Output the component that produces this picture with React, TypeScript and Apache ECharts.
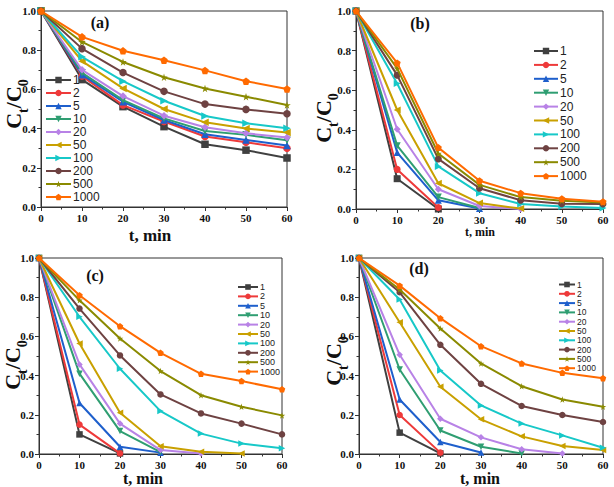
import React, { useEffect, useRef } from "react";
import * as echarts from "echarts";

// time points (min)
const times = [0, 10, 20, 30, 40, 50, 60];
const seriesNames = ["1", "2", "5", "10", "20", "50", "100", "200", "500", "1000"];
const xTicks = [0, 10, 20, 30, 40, 50, 60];
const yTicks = [0.0, 0.2, 0.4, 0.6, 0.8, 1.0];
const panelLabels = ["(a)", "(b)", "(c)", "(d)"];

// Panel (a)
const a1 = [1, 0.65, 0.512, 0.41, 0.32, 0.29, 0.25];
const a2 = [1, 0.668, 0.52, 0.436, 0.36, 0.33, 0.3];
const a5 = [1, 0.675, 0.537, 0.444, 0.371, 0.342, 0.314];
const a10 = [1, 0.685, 0.545, 0.452, 0.388, 0.368, 0.34];
const a20 = [1, 0.7, 0.566, 0.466, 0.407, 0.376, 0.354];
const a50 = [1, 0.744, 0.605, 0.5, 0.432, 0.4, 0.38];
const a100 = [1, 0.766, 0.642, 0.542, 0.464, 0.427, 0.402];
const a200 = [1, 0.808, 0.686, 0.59, 0.525, 0.498, 0.476];
const a500 = [1, 0.842, 0.74, 0.662, 0.605, 0.563, 0.52];
const a1000 = [1, 0.868, 0.797, 0.749, 0.697, 0.642, 0.602];

// Panel (b)
const b1 = [1, 0.153, 0.0];
const b2 = [1, 0.2, 0.008];
const b5 = [1, 0.285, 0.044, 0.003];
const b10 = [1, 0.32, 0.06, 0.005];
const b20 = [1, 0.403, 0.1, 0.015, 0.0];
const b50 = [1, 0.5, 0.13, 0.03, 0.002];
const b100 = [1, 0.634, 0.215, 0.08, 0.025, 0.013, 0.005];
const b200 = [1, 0.676, 0.253, 0.105, 0.044, 0.027, 0.025];
const b500 = [1, 0.71, 0.28, 0.122, 0.06, 0.042, 0.033];
const b1000 = [1, 0.738, 0.31, 0.143, 0.08, 0.052, 0.037];

// Panel (c)
const c1 = [1, 0.1, 0.003];
const c2 = [1, 0.15, 0.003];
const c5 = [1, 0.26, 0.037, 0.007];
const c10 = [1, 0.41, 0.117, 0.01];
const c20 = [1, 0.457, 0.155, 0.02, 0.003];
const c50 = [1, 0.564, 0.21, 0.04, 0.012, 0.002];
const c100 = [1, 0.7, 0.435, 0.219, 0.104, 0.053, 0.029];
const c200 = [1, 0.742, 0.503, 0.304, 0.207, 0.155, 0.1];
const c500 = [1, 0.784, 0.589, 0.423, 0.3, 0.241, 0.197];
const c1000 = [1, 0.81, 0.652, 0.516, 0.409, 0.372, 0.33];

// Panel (d)
const d1 = [1, 0.109, 0.003];
const d2 = [1, 0.199, 0.007];
const d5 = [1, 0.278, 0.061, 0.008];
const d10 = [1, 0.431, 0.12, 0.037, 0.003];
const d20 = [1, 0.506, 0.18, 0.085, 0.024, 0.003];
const d50 = [1, 0.672, 0.343, 0.177, 0.09, 0.041, 0.02];
const d100 = [1, 0.788, 0.426, 0.248, 0.155, 0.095, 0.032];
const d200 = [1, 0.825, 0.557, 0.358, 0.245, 0.199, 0.163];
const d500 = [1, 0.839, 0.64, 0.462, 0.346, 0.278, 0.241];
const d1000 = [1, 0.859, 0.693, 0.55, 0.462, 0.414, 0.387];

const panelData = [
  [a1, a2, a5, a10, a20, a50, a100, a200, a500, a1000],
  [b1, b2, b5, b10, b20, b50, b100, b200, b500, b1000],
  [c1, c2, c5, c10, c20, c50, c100, c200, c500, c1000],
  [d1, d2, d5, d10, d20, d50, d100, d200, d500, d1000],
];

const colors = [
  "#404040", "#EE3A3A", "#1E5FCC", "#2F9E72", "#B882E6",
  "#C9A000", "#17C8C8", "#6E4242", "#8A8A00", "#FF6A00",
];
const STAR = "path://M50,0 L61,35 L98,35 L68,57 L79,91 L50,70 L21,91 L32,57 L2,35 L39,35 Z";
const PENTA = "path://M50,0 L100,38 L81,100 L19,100 L0,38 Z";
const symbols = ["rect", "circle", "triangle", "triangle", "diamond", "triangle", "triangle", "circle", STAR, PENTA];
const symbolRotates = [0, 0, 0, 180, 0, 90, -90, 0, 0, 0];

const grids = [
  { left: 41, top: 11, width: 246, height: 196 },
  { left: 356, top: 11, width: 247, height: 198 },
  { left: 39, top: 258, width: 243, height: 196 },
  { left: 359, top: 258, width: 244, height: 196 },
];
const legendPos = [
  { left: 45, top: 74, itemWidth: 25, itemHeight: 8, itemGap: 1, fontSize: 12 },
  { left: 533, top: 45, itemWidth: 24, itemHeight: 8, itemGap: 1.9, fontSize: 12 },
  { left: 237, top: 282.5, itemWidth: 20, itemHeight: 7, itemGap: 0.4, fontSize: 9 },
  { left: 558, top: 280, itemWidth: 16, itemHeight: 7, itemGap: 0.3, fontSize: 8.5 },
];
const symSizes = [7.5, 7, 6.5, 6.5];
const labelPos = [
  [100, 22], [420, 23], [95, 275], [419, 268],
];
const xTitlePos = [
  { x: 150, y: 235, size: 17 },
  { x: 480, y: 232, size: 12 },
  { x: 143, y: 478, size: 16 },
  { x: 480, y: 478, size: 16 },
];
const yTitlePos = [
  [12, 104], [322, 118], [11, 365], [332, 361],
];

export default function App() {
  const ref = useRef<HTMLDivElement>(null);
  useEffect(() => {
    if (!ref.current) return;
    const chart = echarts.init(ref.current, null, { renderer: "svg" });
    const serif = "Liberation Serif";
    const xAxes: any[] = [];
    const yAxes: any[] = [];
    const series: any[] = [];
    const legends: any[] = [];
    const graphics: any[] = [];
    grids.forEach((g, p) => {
      xAxes.push({
        type: "value", gridIndex: p, min: xTicks[0], max: xTicks[xTicks.length - 1], interval: 10,
        axisLine: { show: true, lineStyle: { color: "#333", width: 1 } },
        axisTick: { show: true, length: 4, lineStyle: { color: "#333" } },
        minorTick: { show: true, splitNumber: 2, length: 2.5, lineStyle: { color: "#333" } },
        splitLine: { show: false },
        axisLabel: { fontFamily: serif, fontWeight: "bold", fontSize: 11, color: "#111", margin: 5 },
      });
      yAxes.push({
        type: "value", gridIndex: p, min: yTicks[0], max: yTicks[yTicks.length - 1], interval: 0.2,
        axisLine: { show: true, lineStyle: { color: "#333", width: 1 } },
        axisTick: { show: true, length: 4, lineStyle: { color: "#333" } },
        minorTick: { show: true, splitNumber: 2, length: 2.5, lineStyle: { color: "#333" } },
        splitLine: { show: false },
        axisLabel: {
          fontFamily: serif, fontWeight: "bold", fontSize: 11, color: "#111", margin: 5,
          formatter: (v: number) => v.toFixed(1),
        },
      });
      panelData[p].forEach((arr, i) => {
        series.push({
          type: "line", name: seriesNames[i], xAxisIndex: p, yAxisIndex: p,
          data: arr.map((v, k) => [times[k], v]),
          symbol: symbols[i], symbolRotate: symbolRotates[i], symbolSize: symSizes[p],
          lineStyle: { color: colors[i], width: 2 },
          itemStyle: { color: colors[i] },
          z: 2 + i,
        });
      });
      const lp = legendPos[p];
      legends.push({
        orient: "vertical", left: lp.left, top: lp.top, itemWidth: lp.itemWidth, itemHeight: lp.itemHeight,
        itemGap: lp.itemGap, padding: 0, data: seriesNames,
        textStyle: { fontFamily: "Liberation Sans", fontSize: lp.fontSize, color: "#222", padding: [0, 0, 0, -3] },
      });
      graphics.push({
        type: "text", x: labelPos[p][0], y: labelPos[p][1],
        style: { text: panelLabels[p], fontFamily: serif, fontWeight: "bold", fontSize: 16, fill: "#111", align: "center", verticalAlign: "middle" },
      });
      const xt = xTitlePos[p];
      graphics.push({
        type: "text", x: xt.x, y: xt.y,
        style: { text: "t, min", fontFamily: serif, fontWeight: "bold", fontSize: xt.size, fill: "#111", align: "center", verticalAlign: "middle" },
      });
      graphics.push({
        type: "text", x: yTitlePos[p][0], y: yTitlePos[p][1], rotation: Math.PI / 2,
        style: {
          text: "{c|C}{s|t}{c|/C}{s|0}", align: "center", verticalAlign: "middle", fill: "#111",
          rich: {
            c: { fontFamily: serif, fontWeight: "bold", fontSize: 22, fill: "#111", verticalAlign: "bottom", lineHeight: 24 },
            s: { fontFamily: serif, fontWeight: "bold", fontSize: 14, fill: "#111", verticalAlign: "bottom", lineHeight: 24, padding: [0, 0, -6, 0] },
          },
        },
      });
    });
    chart.setOption({
      animation: false,
      backgroundColor: "#fff",
      grid: grids.map((g) => ({ ...g, show: true, borderColor: "#333", borderWidth: 1, backgroundColor: "transparent" })),
      xAxis: xAxes,
      yAxis: yAxes,
      legend: legends,
      series,
      graphic: graphics,
    });
    return () => chart.dispose();
  }, []);
  return <div ref={ref} style={{ position: "fixed", left: 0, top: 0, width: 614, height: 487, background: "#fff" }} />;
}
